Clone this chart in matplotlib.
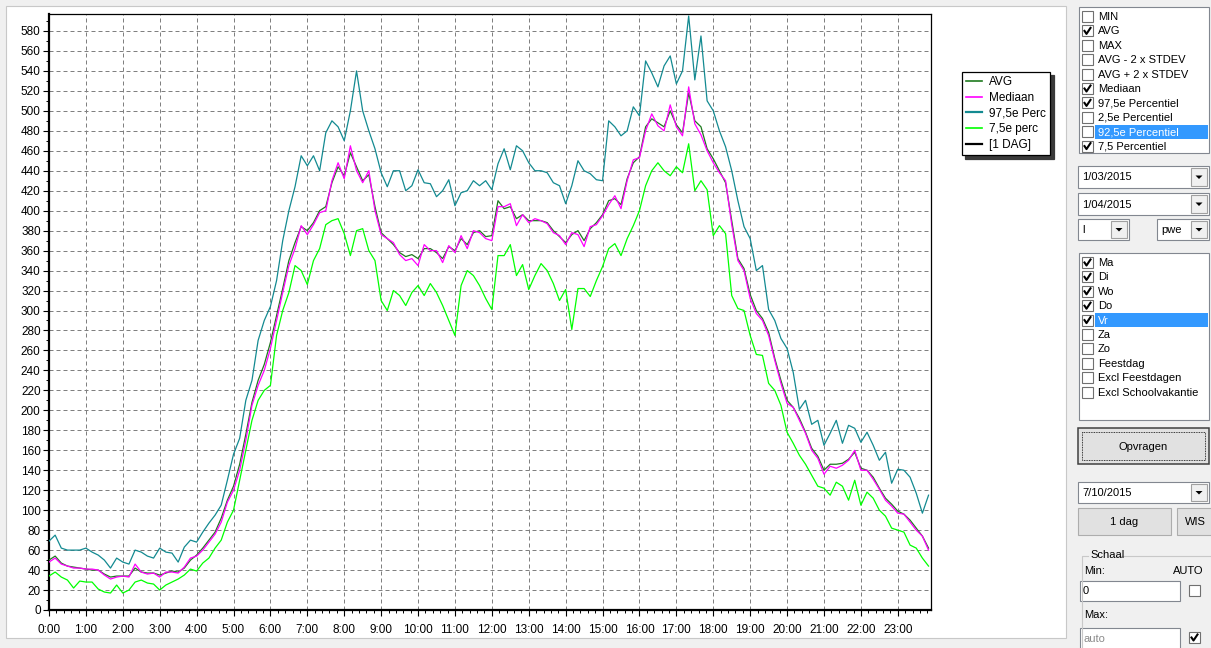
import numpy as np
import matplotlib
matplotlib.use('Agg')
import matplotlib.pyplot as plt
from matplotlib.patches import Rectangle, Polygon
from matplotlib.lines import Line2D
from matplotlib.ticker import MultipleLocator

plt.rcParams['font.family'] = ['Liberation Sans', 'DejaVu Sans']

W, H = 1211, 648

# =============================================================================
# Data - one value every 10 minutes, 6 values per hour (0:00 .. 23:50)
# =============================================================================

avg = [
    50, 54, 47, 44, 43, 42,        # 0h
    41, 40, 40, 36, 33, 34,        # 1h
    34, 34, 42, 38, 37, 37,        # 2h
    35, 37, 39, 38, 42, 50,        # 3h
    55, 62, 70, 78, 92, 110,       # 4h
    124, 146, 176, 208, 230, 246,  # 5h
    268, 295, 322, 350, 368, 384,  # 6h
    380, 388, 400, 404, 428, 444,  # 7h
    435, 458, 444, 430, 436, 404,  # 8h
    378, 372, 366, 358, 354, 356,  # 9h
    352, 362, 362, 358, 352, 364,  # 10h
    360, 372, 366, 378, 380, 374,  # 11h
    375, 410, 402, 404, 392, 396,  # 12h
    390, 390, 390, 388, 380, 374,  # 13h
    368, 376, 380, 370, 382, 388,  # 14h
    396, 410, 412, 406, 432, 448,  # 15h
    454, 484, 492, 488, 484, 500,  # 16h
    486, 478, 518, 490, 484, 462,  # 17h
    452, 440, 428, 390, 352, 342,  # 18h
    316, 300, 292, 278, 252, 230,  # 19h
    210, 203, 192, 178, 162, 154,  # 20h
    140, 146, 146, 147, 151, 158,  # 21h
    142, 140, 133, 122, 112, 106,  # 22h
    99, 96, 90, 82, 74, 62,        # 23h
]

mediaan = [
    48, 52, 46, 44, 42, 42,
    41, 41, 40, 35, 31, 33,
    34, 33, 46, 38, 36, 37,
    33, 38, 38, 37, 43, 52,
    54, 60, 68, 76, 88, 108,
    120, 140, 170, 205, 225, 240,
    262, 290, 318, 345, 362, 385,
    376, 386, 398, 400, 430, 448,
    432, 465, 440, 428, 440, 400,
    376, 372, 368, 356, 350, 352,
    345, 366, 360, 360, 348, 365,
    358, 375, 362, 380, 378, 372,
    370, 404, 404, 407, 385, 396,
    388, 392, 390, 387, 378, 375,
    366, 378, 376, 364, 384, 386,
    395, 406, 415, 402, 430, 451,
    453, 480, 497, 485, 480, 506,
    484, 475, 524, 487, 476, 460,
    448, 438, 430, 386, 350, 340,
    312, 297, 290, 275, 250, 227,
    207, 203, 190, 177, 160, 152,
    136, 144, 142, 145, 150, 160,
    140, 140, 131, 121, 110, 104,
    97, 96, 88, 80, 74, 60,
]

perc_97_5 = [
    69, 75, 62, 60, 60, 60,
    62, 58, 55, 50, 42, 52,
    48, 46, 60, 58, 54, 52,
    62, 58, 57, 48, 63, 70,
    68, 78, 87, 95, 105, 130,
    156, 172, 210, 230, 270, 290,
    304, 330, 370, 400, 424, 455,
    445, 455, 440, 478, 490, 484,
    470, 500, 540, 500, 480, 462,
    438, 424, 440, 440, 420, 425,
    441, 428, 427, 414, 420, 431,
    405, 418, 420, 430, 425, 430,
    421, 447, 462, 441, 465, 460,
    448, 440, 440, 438, 428, 425,
    407, 425, 450, 440, 437, 431,
    430, 490, 484, 475, 480, 504,
    495, 550, 538, 524, 545, 555,
    527, 540, 595, 531, 575, 510,
    500, 480, 464, 440, 410, 384,
    372, 340, 345, 301, 290, 272,
    262, 238, 201, 210, 186, 190,
    165, 177, 190, 167, 185, 182,
    168, 178, 165, 150, 158, 127,
    141, 140, 133, 117, 97, 115,
]

perc_7_5 = [
    34, 38, 33, 30, 22, 29,
    28, 28, 21, 18, 17, 25,
    17, 20, 28, 30, 27, 26,
    20, 25, 28, 31, 35, 41,
    39, 47, 52, 62, 70, 88,
    100, 130, 160, 190, 210, 220,
    225, 275, 300, 318, 345, 340,
    326, 350, 362, 386, 390, 392,
    377, 355, 380, 382, 360, 350,
    310, 300, 320, 315, 305, 318,
    325, 315, 327, 318, 305, 290,
    275, 325, 340, 335, 325, 312,
    301, 355, 355, 366, 335, 346,
    321, 335, 347, 340, 327, 310,
    321, 281, 322, 322, 314, 330,
    344, 362, 367, 355, 372, 385,
    400, 425, 440, 448, 440, 435,
    444, 438, 467, 420, 430, 421,
    375, 385, 377, 315, 302, 300,
    275, 256, 255, 227, 220, 205,
    178, 167, 155, 146, 135, 124,
    122, 115, 128, 124, 110, 130,
    105, 118, 112, 100, 94, 82,
    80, 78, 65, 62, 52, 44,
]

hour_labels = [f'{h}:00' for h in range(24)]
y_ticks = list(range(0, 600, 20))

# side panel contents
stat_items = ['MIN', 'AVG', 'MAX', 'AVG - 2 x STDEV', 'AVG + 2 x STDEV', 'Mediaan',
              '97,5e Percentiel', '2,5e Percentiel', '92,5e Percentiel', '7,5 Percentiel']
stat_checked = [False, True, False, False, False, True, True, False, False, True]
stat_selected = 8
day_items = ['Ma', 'Di', 'Wo', 'Do', 'Vr', 'Za', 'Zo', 'Feestdag',
             'Excl Feestdagen', 'Excl Schoolvakantie']
day_checked = [True, True, True, True, True, False, False, False, False, False]
day_selected = 4

hours = np.arange(len(mediaan)) / 6.0

# =============================================================================
# Figure
# =============================================================================

fig = plt.figure(figsize=(W / 100, H / 100), dpi=100, facecolor='#f0f0f0')

ui = fig.add_axes([0, 0, 1, 1], zorder=0)
ui.set_xlim(0, W)
ui.set_ylim(H, 0)
ui.axis('off')

# white chart panel
ui.add_patch(Rectangle((6, 6), 1060, 632, facecolor='white', edgecolor='#c8c8c8', lw=0.8))

ax = fig.add_axes([49 / W, 1 - 610 / H, 882 / W, 596 / H], zorder=2)
ax.set_facecolor('white')

ax.plot(hours, perc_97_5, color='#138a91', lw=0.9, label='97,5e Perc', zorder=3)
ax.plot(hours, perc_7_5, color='#00ff00', lw=0.9, label='7,5e perc', zorder=3)
ax.plot(hours, avg, color='#1f7a1f', lw=0.9, label='AVG', zorder=4)
ax.plot(hours, mediaan, color='#ff00ff', lw=0.9, label='Mediaan', zorder=5)

ax.set_xlim(0, 23.9)
ax.set_ylim(0, 597)
ax.set_xticks(range(24))
ax.set_xticklabels(hour_labels)
ax.xaxis.set_minor_locator(MultipleLocator(0.2))
ax.set_yticks(y_ticks)
ax.yaxis.set_minor_locator(MultipleLocator(10))
ax.tick_params(axis='both', which='major', direction='out', length=4, width=0.8,
               labelsize=8.5, colors='black')
ax.tick_params(axis='x', which='major', pad=6)
ax.tick_params(axis='y', which='major', pad=2)
ax.tick_params(axis='both', which='minor', direction='out', length=2, width=0.7)
ax.grid(True, which='major', color='#808080', linestyle=(0, (4, 3)), linewidth=0.72)
ax.set_axisbelow(True)

for side in ['left', 'bottom']:
    ax.spines[side].set_linewidth(1.6)
for side in ['top', 'right']:
    ax.spines[side].set_linewidth(0.9)

handles = [
    Line2D([], [], color='#1f7a1f', lw=1.2, label='AVG'),
    Line2D([], [], color='#ff00ff', lw=1.2, label='Mediaan'),
    Line2D([], [], color='#138a91', lw=1.6, label='97,5e Perc'),
    Line2D([], [], color='#00ff00', lw=1.2, label='7,5e perc'),
    Line2D([], [], color='black', lw=1.6, label='[1 DAG]'),
]
leg = ax.legend(handles=handles, loc='upper left', bbox_to_anchor=(962 / W, 1 - 72 / H),
                bbox_transform=fig.transFigure, borderaxespad=0, fontsize=8.5,
                frameon=True, fancybox=False, edgecolor='black', framealpha=1,
                shadow={'ox': 2.5, 'oy': -2.5, 'facecolor': '#3a3a3a', 'edgecolor': '#3a3a3a', 'alpha': 1},
                handlelength=1.3, handletextpad=0.6, labelspacing=0.3, borderpad=0.38)
leg.get_frame().set_linewidth(0.9)

# =============================================================================
# Side panel
# =============================================================================

def sunken(x0, y0, x1, y1, fc='white'):
    ui.add_patch(Rectangle((x0, y0), x1 - x0, y1 - y0, facecolor=fc, edgecolor='#828790', lw=0.8))


def checkbox(x, y, checked):
    ui.add_patch(Rectangle((x, y), 11, 11, facecolor='white', edgecolor='#707070', lw=0.8))
    if checked:
        ui.plot([x + 2.5, x + 4.5, x + 8.5], [y + 5.5, y + 8.5, y + 2.5], color='black', lw=1.5)


def arrow_btn(x0, y0, x1, y1):
    ui.add_patch(Rectangle((x0, y0), x1 - x0, y1 - y0, facecolor='#f0f0f0', edgecolor='#a0a0a0', lw=0.8))
    cx, cy = (x0 + x1) / 2, (y0 + y1) / 2
    ui.add_patch(Polygon([[cx - 3.5, cy - 1.5], [cx + 3.5, cy - 1.5], [cx, cy + 2]], closed=True,
                         facecolor='black', edgecolor='none'))


def combo(x0, y0, x1, y1, text):
    sunken(x0, y0, x1, y1)
    arrow_btn(x1 - 18, y0 + 2, x1 - 2, y1 - 2)
    ui.text(x0 + 4, (y0 + y1) / 2 + 0.5, text, fontsize=8, va='center', ha='left')


def button(x0, y0, x1, y1, text, default=False):
    ui.add_patch(Rectangle((x0, y0), x1 - x0, y1 - y0, facecolor='#e1e1e1',
                           edgecolor='#404040' if default else '#adadad', lw=1.1 if default else 0.8))
    if default:
        ui.add_patch(Rectangle((x0 + 4, y0 + 4), x1 - x0 - 8, y1 - y0 - 8, facecolor='none',
                               edgecolor='black', lw=0.6, linestyle=(0, (1, 1))))
    ui.text((x0 + x1) / 2, (y0 + y1) / 2 + 0.5, text, fontsize=8, va='center', ha='center')


def listbox(x0, y0, x1, y1, items, checked, selected, row0, step):
    sunken(x0, y0, x1, y1)
    for i, (name, chk) in enumerate(zip(items, checked)):
        yc = row0 + i * step
        checkbox(x0 + 3, yc - 5.5, chk)
        color = 'black'
        if i == selected:
            ui.add_patch(Rectangle((x0 + 16, yc - 7), x1 - x0 - 17, 14, facecolor='#3399ff', edgecolor='none'))
            color = 'white'
        ui.text(x0 + 19, yc + 0.5, name, fontsize=8, va='center', ha='left', color=color)


listbox(1079, 7, 1209, 153, stat_items, stat_checked, stat_selected, 16.5, 14.4)

combo(1078, 166, 1209, 188, '1/03/2015')
combo(1078, 193, 1209, 215, '1/04/2015')
combo(1078, 219, 1129, 240, 'l')
combo(1157, 219, 1209, 240, 'pwe')

listbox(1079, 253, 1209, 420, day_items, day_checked, day_selected, 262.5, 14.4)

button(1078, 428, 1209, 464, 'Opvragen', default=True)
combo(1078, 482, 1209, 503, '7/10/2015')
button(1078, 508, 1171, 535, '1 dag')
button(1177, 508, 1214, 535, 'WIS')

# group box "Schaal"
ui.plot([1088, 1082, 1082], [556, 556, H], color='#c8c8c8', lw=0.8)
ui.plot([1116, W], [556, 556], color='#c8c8c8', lw=0.8)
ui.text(1090, 555.5, 'Schaal', fontsize=8, va='center', ha='left')
ui.text(1084, 571, 'Min:', fontsize=8, va='center', ha='left')
ui.text(1203, 571, 'AUTO', fontsize=8, va='center', ha='right')
sunken(1080, 581, 1180, 601)
ui.text(1083, 591.5, '0', fontsize=8, va='center', ha='left')
checkbox(1189, 585, False)
ui.text(1084, 615, 'Max:', fontsize=8, va='center', ha='left')
sunken(1080, 628, 1180, 650)
ui.text(1083, 638.5, 'auto', fontsize=8, va='center', ha='left', color='#8a8a8a')
checkbox(1189, 632, True)

fig.savefig('out.png', dpi=100, facecolor=fig.get_facecolor())
plt.close(fig)
